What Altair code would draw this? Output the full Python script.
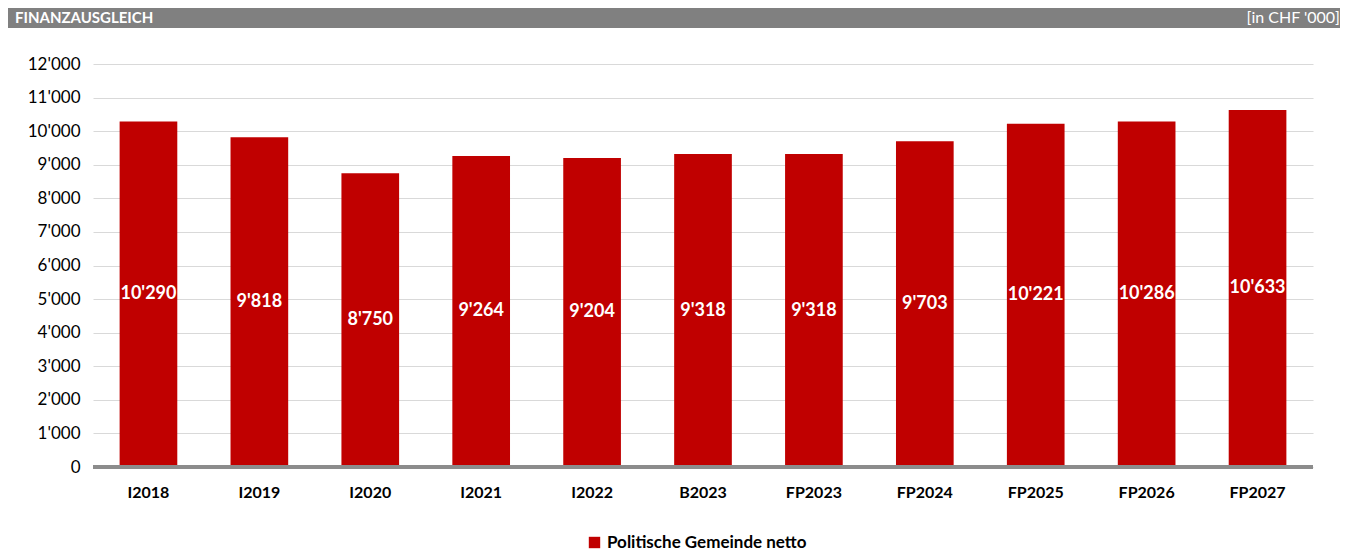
import altair as alt
import pandas as pd

categories = ["I2018", "I2019", "I2020", "I2021", "I2022", "B2023",
              "FP2023", "FP2024", "FP2025", "FP2026", "FP2027"]
values = [10290, 9818, 8750, 9264, 9204, 9318, 9318, 9703, 10221, 10286, 10633]
series_name = "Politische Gemeinde netto"
y_ticks = list(range(0, 12001, 1000))

df = pd.DataFrame({"cat": categories, "val": values, "series": series_name})

FONT = "Lato"
RED = "#C00000"

W, H = 1220, 403

x_scale = alt.Scale(paddingInner=0.48, paddingOuter=0.24)
x_axis = alt.Axis(title=None, labelAngle=0, labelFontWeight="bold",
                  labelFontSize=16, labelColor="#000000", labelPadding=17,
                  ticks=False, domain=False, labelFont=FONT)
y_scale = alt.Scale(domain=[0, 12000], nice=False)
y_axis = alt.Axis(title=None, values=y_ticks, labelFontSize=17,
                  labelColor="#000000", labelPadding=13, ticks=False,
                  domain=False, gridColor="#D9D9D9", gridWidth=1,
                  labelFont=FONT, labelOverlap=False,
                  labelExpr="replace(format(datum.value, ','), ',', \"'\")")

base = alt.Chart(df)

bars = base.mark_bar(color=RED).encode(
    x=alt.X("cat:N", sort=categories, scale=x_scale, axis=x_axis),
    y=alt.Y("val:Q", scale=y_scale, axis=y_axis),
    color=alt.Color("series:N", scale=alt.Scale(range=[RED]),
                    legend=alt.Legend(title=None, orient="none", legendX=493, legendY=470,
                                      symbolType="square", symbolSize=130,
                                      symbolStrokeWidth=0, labelLimit=0,
                                      labelFontSize=17, labelFontWeight="bold",
                                      labelColor="#000000", labelFont=FONT)),
)

labels = base.transform_calculate(
    half="datum.val / 2",
    lab="replace(format(datum.val, ','), ',', \"'\")"
).mark_text(color="white", fontWeight="bold", fontSize=18, font=FONT,
            baseline="middle").encode(
    x=alt.X("cat:N", sort=categories, scale=x_scale, axis=x_axis),
    y=alt.Y("half:Q", scale=y_scale, axis=y_axis),
    text="lab:N",
)

baseline = alt.Chart(pd.DataFrame({"z": [0]})).mark_rule(
    color="#8C8C8C", strokeWidth=4).encode(
    y=alt.value(H), x=alt.value(0), x2=alt.value(W))

header = alt.Chart(pd.DataFrame({"z": [0]})).mark_rect(color="#808080").encode(
    x=alt.value(-85), x2=alt.value(W + 27), y=alt.value(-56), y2=alt.value(-36))

title_left = alt.Chart(pd.DataFrame({"t": ["FINANZAUSGLEICH"]})).mark_text(
    color="white", fontWeight="bold", fontSize=15, font=FONT, align="left",
    baseline="middle").encode(x=alt.value(-78), y=alt.value(-46), text="t:N")

title_right = alt.Chart(pd.DataFrame({"t": ["[in CHF '000]"]})).mark_text(
    color="white", fontSize=16, font=FONT, align="right",
    baseline="middle").encode(x=alt.value(W + 27), y=alt.value(-46), text="t:N")

chart = alt.layer(header, title_left, title_right, bars, labels, baseline).properties(
    width=W, height=H,
    autosize=alt.AutoSizeParams(type="none"),
    padding={"left": 85, "top": 56, "right": 27, "bottom": 88},
).configure(font=FONT).configure_view(stroke="transparent", strokeWidth=0)

chart.save("out.html", embed_options={"renderer": "svg", "actions": False})
